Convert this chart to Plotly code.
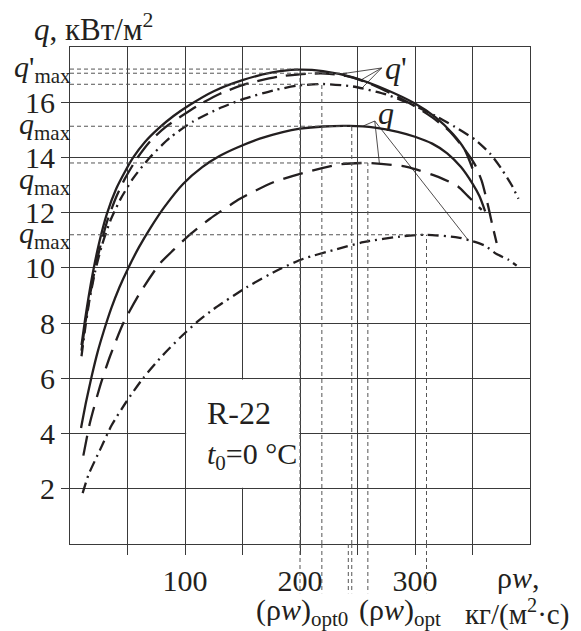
import plotly.graph_objects as go

# ---------------- data ----------------
# q' curves (upper family)
qp_solid_x = [10, 13, 16, 20, 25, 32, 40, 48, 55, 65, 77, 90, 104, 125, 150, 175, 197, 220, 246, 275, 300, 318, 333, 343, 350]
qp_solid_y = [7.2, 8.1, 8.9, 9.85, 10.85, 11.95, 12.85, 13.5, 14.0, 14.55, 15.05, 15.5, 15.9, 16.4, 16.8, 17.07, 17.18, 17.13, 16.9, 16.45, 15.95, 15.45, 14.85, 14.3, 13.6]

qp_dash_x = [10, 13, 16, 20, 25, 32, 40, 48, 58, 70, 83, 97, 110, 130, 154, 180, 205, 222, 240, 258, 280, 298, 315, 330, 343, 352, 358, 363, 367, 371]
qp_dash_y = [7.0, 7.9, 8.7, 9.6, 10.55, 11.65, 12.55, 13.25, 13.95, 14.6, 15.1, 15.5, 15.85, 16.3, 16.67, 16.92, 17.03, 17.04, 16.95, 16.72, 16.3, 15.9, 15.45, 14.95, 14.3, 13.75, 13.15, 12.35, 11.6, 10.9]

qp_dd_x = [10, 13, 17, 22, 28, 35, 44, 55, 69, 87, 107, 130, 151, 177, 198, 220, 246, 275, 300, 318, 335, 352, 365, 375, 384, 390]
qp_dd_y = [6.8, 7.75, 8.85, 9.9, 10.85, 11.7, 12.5, 13.25, 13.98, 14.72, 15.3, 15.78, 16.12, 16.43, 16.6, 16.66, 16.57, 16.28, 15.87, 15.5, 15.1, 14.65, 14.15, 13.6, 13.0, 12.5]

# q curves (lower family)
q_solid_x = [9.6, 14, 19, 24, 29, 36, 43, 50.7, 60, 70, 82, 98.5, 115, 130, 145, 165, 185, 200, 220, 243, 265, 285, 300, 315, 328, 340, 350, 356, 361]
q_solid_y = [4.2, 5.15, 6.1, 6.95, 7.66, 8.55, 9.3, 10.0, 10.75, 11.45, 12.2, 13.05, 13.65, 14.05, 14.35, 14.68, 14.92, 15.04, 15.12, 15.14, 15.08, 14.93, 14.75, 14.5, 14.15, 13.65, 13.05, 12.6, 12.05]

q_dash_x = [11.6, 17.4, 26, 34.8, 46.4, 60.9, 78, 90, 104, 121.7, 147.8, 176.8, 205.8, 234.8, 259, 292.8, 321.7, 337.4, 346, 358]
q_dash_y = [3.2, 4.4, 5.7, 6.8, 8.0, 9.1, 10.15, 10.65, 11.2, 11.78, 12.5, 13.1, 13.47, 13.75, 13.8, 13.66, 13.27, 12.95, 12.6, 12.1]

q_dd_x = [11, 16, 26, 36.2, 49.3, 63.8, 81, 95.6, 111.6, 124.6, 153.6, 182.6, 202.9, 232, 255, 289.8, 310, 337.7, 348, 361, 371, 381, 388.4]
q_dd_y = [1.84, 2.5, 3.4, 4.3, 5.17, 6.02, 6.85, 7.47, 8.08, 8.5, 9.3, 9.96, 10.33, 10.68, 10.93, 11.15, 11.2, 11.1, 10.99, 10.8, 10.5, 10.3, 10.08]

# maxima (level, optimum rho*w)
qp_max_levels = [17.2, 17.05, 16.65]
qp_max_x = [200, 242, 219]
q_max_levels = [15.13, 13.8, 11.2]
q_max_x = [245, 259, 310]

x_tickvals = [50, 100, 150, 200, 250, 300, 350]
x_ticktext = ["", "100", "", "200", "", "300", ""]
y_tickvals = [2, 4, 6, 8, 10, 12, 14, 16]
y_ticktext = ["2", "4", "6", "8", "10", "12", "14", "16"]

# leader lines: label anchor -> points on curves
qp_lead_from = (271, 17.24)
qp_lead_to = [(234.8, 17.02), (252, 16.78), (253.6, 16.5)]
q_lead_from = (265, 15.32)
q_lead_to = [(255, 15.14), (269, 13.8), (346.4, 11.0)]

# ---------------- figure ----------------
FONT = "Liberation Serif, Times New Roman, serif"
INK = "#231f20"
fig = go.Figure()

W = 2.3
styles = [
    (qp_solid_x, qp_solid_y, "solid"),
    (qp_dash_x, qp_dash_y, "20px,9px"),
    (qp_dd_x, qp_dd_y, "11px,5px,2px,5px"),
    (q_solid_x, q_solid_y, "solid"),
    (q_dash_x, q_dash_y, "20px,10px"),
    (q_dd_x, q_dd_y, "11px,5px,2px,5px"),
]
for xs, ys, dash in styles:
    fig.add_trace(go.Scatter(x=xs, y=ys, mode="lines",
                             line=dict(color=INK, width=W, dash=dash, shape="spline", smoothing=0.6),
                             showlegend=False, hoverinfo="skip"))

shapes = []
# white box for the label (covers grid inside)
shapes.append(dict(type="rect", xref="x", yref="y", x0=101, x1=199, y0=2.04, y1=5.96,
                   fillcolor="white", line=dict(width=0), layer="between"))

ref = dict(color="#555555", width=1, dash="4px,3px")
for lev, xm in zip(qp_max_levels + q_max_levels, qp_max_x + q_max_x):
    shapes.append(dict(type="line", xref="x", yref="y", x0=0, x1=xm, y0=lev, y1=lev, line=ref, layer="above"))
    if xm != 242:
        shapes.append(dict(type="line", xref="x", yref="y", x0=xm, x1=xm, y0=0, y1=lev, line=ref, layer="above"))
    shapes.append(dict(type="line", xref="x", yref="paper", x0=xm, x1=xm, y0=0, y1=-0.099, line=ref, layer="above"))

lead = dict(color=INK, width=0.8)
for (x1, y1) in qp_lead_to:
    shapes.append(dict(type="line", xref="x", yref="y", x0=qp_lead_from[0], y0=qp_lead_from[1], x1=x1, y1=y1, line=lead))
for (x1, y1) in q_lead_to:
    shapes.append(dict(type="line", xref="x", yref="y", x0=q_lead_from[0], y0=q_lead_from[1], x1=x1, y1=y1, line=lead))

ann = []
def A(text, x, y, xref="x", yref="y", xanchor="center", yanchor="middle", size=30, **kw):
    ann.append(dict(text=text, x=x, y=y, xref=xref, yref=yref, xanchor=xanchor, yanchor=yanchor,
                    showarrow=False, font=dict(family=FONT, size=size, color=INK), **kw))

A("<i>q</i>, кВт/м<sup>2</sup>", -0.082, 1.04, xref="paper", yref="paper", xanchor="left", size=31)
A("<i>q</i>'<sub>max</sub>", 0.006, qp_max_levels[0], xref="paper", xanchor="right")
A("<i>q</i><sub>max</sub>", 0.006, q_max_levels[0], xref="paper", xanchor="right")
A("<i>q</i><sub>max</sub>", 0.006, q_max_levels[1], xref="paper", xanchor="right", yshift=-18)
A("<i>q</i><sub>max</sub>", 0.006, q_max_levels[2], xref="paper", xanchor="right")
A("<i>q</i>'", qp_lead_from[0] + 1, qp_lead_from[1], xanchor="left", size=32)
A("<i>q</i>", q_lead_from[0] + 1, q_lead_from[1] + 0.3, xanchor="left", size=32)
A("R-22", 117, 4.76, xanchor="left", size=32)
A("<i>t</i><sub>0</sub>=0 °C", 117, 3.2, xanchor="left", size=30)
A("ρ<i>w</i>,", 0.974, -0.068, xref="paper", yref="paper")
A("кг/(м<sup>2</sup>·с)", 0.972, -0.137, xref="paper", yref="paper", size=29)
A("(ρ<i>w</i>)<sub>opt0</sub>", 202, -0.137, yref="paper")
A("(ρ<i>w</i>)<sub>opt</sub>", 287, -0.137, yref="paper")

axis_common = dict(showgrid=True, gridcolor="#3a3a3a", gridwidth=1, showline=True, mirror=True,
                   linecolor="#3a3a3a", linewidth=1.2, ticks="outside", tickcolor="#3a3a3a",
                   tickwidth=1, zeroline=False, automargin=False,
                   tickfont=dict(family=FONT, size=30, color=INK))

# page body has an 8px margin, so the figure is offset by 8px inside the window
fig.update_layout(
    template="none",
    width=573, height=623, autosize=False,
    margin=dict(l=62, r=51, t=39, b=87),
    paper_bgcolor="white", plot_bgcolor="white",
    xaxis=dict(range=[0, 400], tickvals=x_tickvals, ticktext=x_ticktext, ticklen=10, **axis_common),
    yaxis=dict(range=[0, 18], tickvals=y_tickvals, ticktext=y_ticktext, ticklen=8, **axis_common),
    shapes=shapes, annotations=ann, showlegend=False,
)

fig.write_html("out.html")
